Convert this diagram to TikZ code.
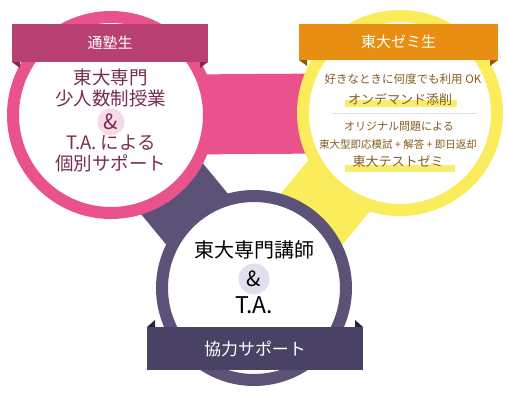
\documentclass[tikz,border=0pt]{standalone}
\usepackage{fontspec}
\setmainfont{Noto Sans CJK JP}
\usepackage{xcolor}
\usetikzlibrary{backgrounds,positioning}

\definecolor{pinkring}{RGB}{233,82,138}
\definecolor{pinkbanner}{RGB}{184,64,112}
\definecolor{pinkfold}{RGB}{130,40,80}
\definecolor{pinktext}{RGB}{120,44,84}
\definecolor{pinkamp}{RGB}{246,218,230}
\definecolor{yellowring}{RGB}{250,236,90}
\definecolor{orangebanner}{RGB}{232,142,18}
\definecolor{orangefold}{RGB}{150,85,10}
\definecolor{browntext}{RGB}{135,92,30}
\definecolor{hilite}{RGB}{248,238,110}
\definecolor{purplering}{RGB}{92,82,120}
\definecolor{purplebanner}{RGB}{74,66,100}
\definecolor{purplefold}{RGB}{40,34,60}
\definecolor{purpleamp}{RGB}{226,222,238}

\begin{document}
\begin{tikzpicture}[x=1pt,y=-1pt]
      \tikzstyle{ring}=[circle, draw, fill=white, line width=12pt, inner sep=0pt]
      \tikzstyle{band}=[line width=80pt]
      \tikzstyle{banner}=[inner sep=0pt, text=white]
      \tikzstyle{amp}=[circle, inner sep=0pt, minimum size=27pt, font=\fontsize{21}{21}\selectfont]
      \tikzstyle{big_text}=[align=center, font=\fontsize{18.5}{21}\selectfont]
      \tikzstyle{small_text}=[text=browntext, inner sep=0pt]

      \useasboundingbox (0,0) rectangle (507,400);

      % circles
      \node (circle1) [ring, draw=pinkring, minimum size=196pt] at (111,115) {};
      \node (circle2) [ring, draw=yellowring, minimum size=194pt] at (400,113) {};
      \node (circle3) [ring, draw=purplering, minimum size=184pt] at (254,288) {};

      % bands behind the circles
      \begin{scope}[on background layer]
        \draw [band, draw=pinkring] (circle1.center) -- (circle2.center);
        \draw [band, draw=purplering] (circle1.center) -- (circle3.center);
        \draw [band, draw=yellowring] (circle2.center) -- (circle3.center);
      \end{scope}

      % left
      \begin{scope}
        \fill [pinkfold] (12,62) -- (20,62) -- (20,68) -- cycle;
        \fill [pinkfold] (208,62) -- (200,62) -- (200,68) -- cycle;
        \node (banner1) [banner, fill=pinkbanner, minimum width=196pt, minimum height=38pt,
          font=\fontsize{15}{15}\selectfont] at (110,43) {通塾生};

        \node (text1a) [big_text, text=pinktext] at (111,88) {東大専門\\少人数制授業};
        \node (amp1) [amp, fill=pinkamp, text=pinktext] at (111,122) {\&};
        \node (text1b) [big_text, text=pinktext] at (111,153) {T.A. による\\個別サポート};
      \end{scope}

      % right
      \begin{scope}
        \fill [orangefold] (299,60) -- (307,60) -- (307,66) -- cycle;
        \fill [orangefold] (498,60) -- (490,60) -- (490,66) -- cycle;
        \node (banner2) [banner, fill=orangebanner, minimum width=199pt, minimum height=36pt,
          font=\fontsize{15}{15}\selectfont] at (398.5,42) {東大ゼミ生};

        \node (text2a) [small_text, font=\fontsize{11.5}{12}\selectfont] at (403,79) {好きなときに何度でも利用 OK};
        \fill [hilite] (345,100) rectangle (457,107);
        \node (text2b) [small_text, font=\fontsize{13}{13}\selectfont] at (400,99) {オンデマンド添削};
        \draw [black!12, line width=1pt] (332,113) -- (477,113);
        \node (text2c) [small_text, font=\fontsize{11}{11}\selectfont] at (399,127) {オリジナル問題による};
        \node (text2d) [small_text, font=\fontsize{10.5}{11}\selectfont] at (398,144) {東大型即応模試 + 解答 + 即日返却};
        \fill [hilite] (345,165) rectangle (455,172);
        \node (text2e) [small_text, font=\fontsize{13}{13}\selectfont] at (398,162) {東大テストゼミ};
      \end{scope}

      % bottom
      \begin{scope}
        \fill [purplefold] (147,327) -- (155,327) -- (155,320) -- cycle;
        \fill [purplefold] (363,327) -- (355,327) -- (355,320) -- cycle;
        \node (banner3) [banner, fill=purplebanner, minimum width=216pt, minimum height=43pt,
          font=\fontsize{17}{17}\selectfont] at (255,348.5) {協力サポート};

        \node (text3a) [font=\fontsize{20}{20}\selectfont] at (254,250) {東大専門講師};
        \node (amp3) [amp, fill=purpleamp, minimum size=31pt] at (254,279) {\&};
        \node (text3b) [font=\fontsize{23}{23}\selectfont] at (254,305) {T.A.};
      \end{scope}
\end{tikzpicture}
\end{document}
